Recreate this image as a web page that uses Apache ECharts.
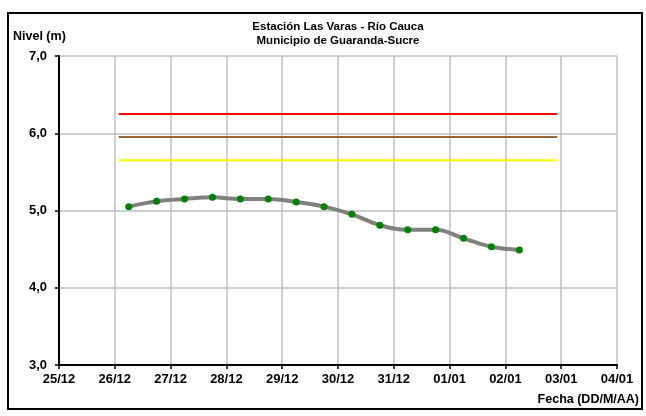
<!DOCTYPE html>
<html>
<head>
<meta charset="utf-8">
<script src="https://cdn.jsdelivr.net/npm/echarts@6/dist/echarts.min.js"></script>
<style>
html,body{margin:0;padding:0;background:#fff;}
#chart{width:646px;height:416px;}
</style>
</head>
<body>
<div id="chart"></div>
<script>
// Tick labels of the x axis (one per day, day offset = index)
var xTickLabels = ['25/12','26/12','27/12','28/12','29/12','30/12','31/12','01/01','02/01','03/01','04/01'];
// Observation times (days after 25/12 00:00) and water levels (m)
var obsDays = [1.25, 1.75, 2.25, 2.75, 3.25, 3.75, 4.25, 4.75, 5.25, 5.75, 6.25, 6.75, 7.25, 7.75, 8.25];
var obsLevels = [5.05, 5.12, 5.15, 5.17, 5.15, 5.15, 5.11, 5.05, 4.95, 4.81, 4.75, 4.75, 4.64, 4.53, 4.49];
// Alert threshold lines (m) and their time span (days)
var thresholdNames = ['Roja', 'Naranja', 'Amarilla'];
var thresholdLevels = [6.25, 5.95, 5.65];
var thresholdSpan = [1.07, 8.93];
var thresholdColors = ['#ff0000', '#996633', '#ffff00'];

var font = '"Liberation Sans", Arial, sans-serif';
var chart = echarts.init(document.getElementById('chart'), null, {renderer: 'canvas'});

var series = [];
thresholdLevels.forEach(function (lv, i) {
  series.push({
    name: thresholdNames[i],
    type: 'line',
    data: [[thresholdSpan[0], lv], [thresholdSpan[1], lv]],
    symbol: 'none',
    lineStyle: {color: thresholdColors[i], width: 2},
    silent: true,
    z: 2
  });
});
series.push({
  name: 'Nivel',
  type: 'line',
  data: obsDays.map(function (d, i) { return [d, obsLevels[i]]; }),
  smooth: 0.4,
  symbol: 'circle',
  symbolSize: 7,
  showAllSymbol: true,
  lineStyle: {color: '#808080', width: 4},
  itemStyle: {color: '#008000', borderWidth: 0},
  z: 3
});

chart.setOption({
  animation: false,
  backgroundColor: '#ffffff',
  textStyle: {fontFamily: font},
  title: {
    text: 'Estación Las Varas - Río Cauca\nMunicipio de Guaranda-Sucre',
    left: 338,
    top: 20,
    padding: 0,
    textAlign: 'center',
    textStyle: {fontFamily: font, fontSize: 11.5, fontWeight: 'bold', color: '#000', lineHeight: 14}
  },
  grid: {left: 59, right: 29, top: 56, bottom: 51, containLabel: false},
  xAxis: {
    type: 'value',
    min: 0,
    max: 10,
    interval: 1,
    name: 'Fecha (DD/M/AA)',
    nameLocation: 'end',
    nameGap: 0,
    nameTextStyle: {fontFamily: font, fontSize: 12.5, fontWeight: 'bold', color: '#000', align: 'right', verticalAlign: 'top', padding: [28, -22, 0, 0]},
    axisLine: {show: true, onZero: false, lineStyle: {color: '#000', width: 2}},
    axisTick: {show: true, length: 4, lineStyle: {color: '#000', width: 1.5}},
    axisLabel: {
      margin: 8,
      fontFamily: font, fontSize: 13, fontWeight: 'bold', color: '#000',
      formatter: function (v) { return xTickLabels[Math.round(v)]; }
    },
    splitLine: {show: true, lineStyle: {color: '#c0c0c0', width: 1.5}}
  },
  yAxis: {
    type: 'value',
    min: 3,
    max: 7,
    interval: 1,
    name: 'Nivel (m)',
    nameLocation: 'end',
    nameGap: 13,
    nameTextStyle: {fontFamily: font, fontSize: 12.5, fontWeight: 'bold', color: '#000', align: 'left', padding: [0, 0, 0, -46]},
    axisLine: {show: true, lineStyle: {color: '#000', width: 2}},
    axisTick: {show: true, length: 4, lineStyle: {color: '#000', width: 1.5}},
    axisLabel: {
      margin: 12,
      fontFamily: font, fontSize: 13, fontWeight: 'bold', color: '#000',
      formatter: function (v) { return v.toFixed(1).replace('.', ','); }
    },
    splitLine: {show: true, lineStyle: {color: '#c0c0c0', width: 1.5}}
  },
  graphic: [{
    type: 'rect',
    shape: {x: 8, y: 13, width: 634, height: 396},
    style: {fill: 'none', stroke: '#000', lineWidth: 2},
    silent: true,
    z: 100
  }],
  series: series
});
</script>
</body>
</html>
